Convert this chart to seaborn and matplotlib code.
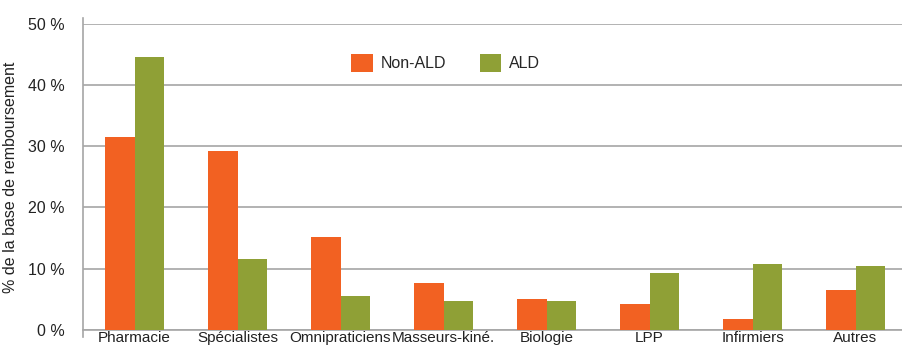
import matplotlib
matplotlib.use("Agg")
import matplotlib.pyplot as plt
import seaborn as sns
import pandas as pd

categories = ["Pharmacie", "Spécialistes", "Omnipraticiens", "Masseurs-kiné.",
              "Biologie", "LPP", "Infirmiers", "Autres"]
non_ald = [31.5, 29.2, 15.2, 7.7, 5.1, 4.2, 1.8, 6.5]
ald = [44.5, 11.6, 5.5, 4.7, 4.7, 9.3, 10.8, 10.4]
series = ["Non-ALD", "ALD"]
yticks = [0, 10, 20, 30, 40, 50]

df = pd.DataFrame({
    "poste": categories * 2,
    "part": non_ald + ald,
    "groupe": [series[0]] * len(categories) + [series[1]] * len(categories),
})

sns.set_style("white")
plt.rcParams["font.family"] = ["Liberation Sans", "DejaVu Sans"]

fig = plt.figure(figsize=(9.02, 3.46), dpi=100)
ax = fig.add_axes([83 / 902, 16 / 346, (907 - 83) / 902, (330 - 23.7) / 346])

palette = {"Non-ALD": "#F26122", "ALD": "#8FA036"}
sns.barplot(data=df, x="poste", y="part", hue="groupe", hue_order=series,
            palette=palette, width=0.57, gap=0, saturation=1,
            linewidth=0, ax=ax, zorder=3)

text_color = "#222222"
fs = 11.5
ax.set_ylim(0, 50)
ax.set_xlim(-0.5, len(categories) - 0.5)
ax.set_yticks(yticks)
ax.set_yticklabels([f"{v} %" for v in yticks], fontsize=fs, color=text_color)
ax.tick_params(axis="y", length=8, width=1.2, color="#A6A6A6", pad=5)
ax.tick_params(axis="x", length=0, pad=1, labelsize=11, labelcolor=text_color)
ax.yaxis.grid(True, color="#A6A6A6", linewidth=1.2, zorder=0)
ax.set_axisbelow(True)

ax.set_xlabel("")
ax.set_ylabel("% de la base de remboursement", fontsize=11.5, color=text_color, labelpad=7)

for side in ["top", "right"]:
    ax.spines[side].set_visible(False)
ax.spines["bottom"].set_color("#A6A6A6")
ax.spines["bottom"].set_linewidth(1.2)
ax.spines["left"].set_color("#A6A6A6")
ax.spines["left"].set_linewidth(1.2)
ax.spines["left"].set_bounds(-1.2, 51)

ax.legend(title=None, loc="center", bbox_to_anchor=(0.440, 0.872), ncol=2,
          frameon=False, fontsize=fs, handlelength=1.35, handleheight=1.35,
          columnspacing=2.1, handletextpad=0.5)

fig.savefig("out.png", dpi=100)
